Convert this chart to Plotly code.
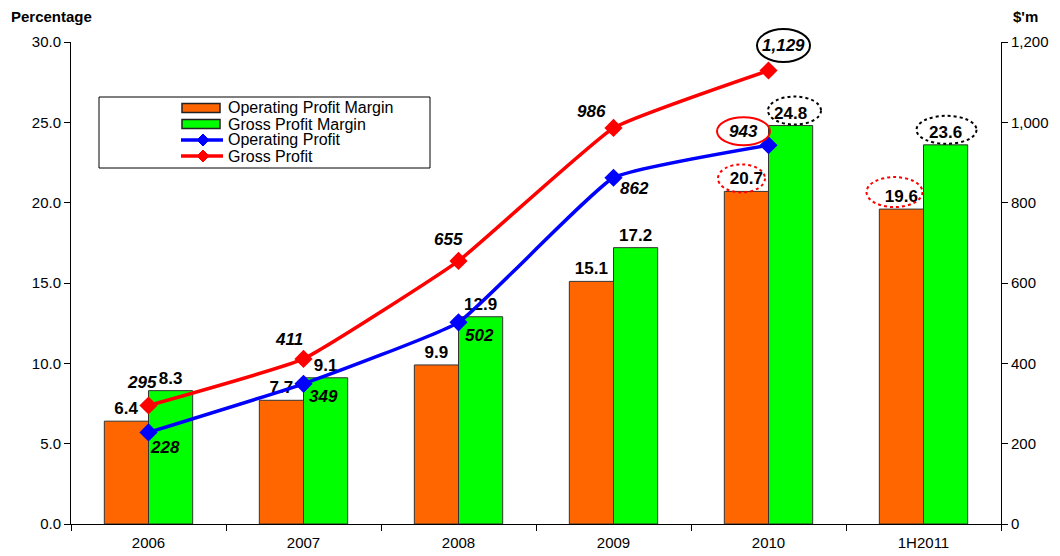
import plotly.graph_objects as go

categories = ["2006", "2007", "2008", "2009", "2010", "1H2011"]
op_margin = [6.4, 7.7, 9.9, 15.1, 20.7, 19.6]
gp_margin = [8.3, 9.1, 12.9, 17.2, 24.8, 23.6]
line_cats = ["2006", "2007", "2008", "2009", "2010"]
op_profit = [228, 349, 502, 862, 943]
gp_profit = [295, 411, 655, 986, 1129]

Y1_MAX = 30
Y2_MAX = 1200
N = len(categories)

FONT = "Liberation Sans, Arial, Helvetica, sans-serif"
ORANGE = "#FF6600"
GREEN = "#00FF00"
BLUE = "#0000FF"
RED = "#FF0000"

fig = go.Figure()
fig.add_trace(go.Bar(
    x=categories, y=op_margin, name="Operating Profit Margin",
    marker=dict(color=ORANGE, line=dict(color="#333333", width=1)),
    text=[f"<b>{v:.1f}</b>" for v in op_margin], textposition="outside",
    textfont=dict(size=17, color="black", family=FONT), cliponaxis=False,
))
fig.add_trace(go.Bar(
    x=categories, y=gp_margin, name="Gross Profit Margin",
    marker=dict(color=GREEN, line=dict(color="#333333", width=1)),
    text=[f"<b>{v:.1f}</b>" for v in gp_margin], textposition="outside",
    textfont=dict(size=17, color="black", family=FONT), cliponaxis=False,
))
fig.add_trace(go.Scatter(
    x=line_cats, y=op_profit, name="Operating Profit", yaxis="y2",
    mode="lines+markers", line=dict(color=BLUE, width=3.5, shape="spline", smoothing=0.35),
    marker=dict(symbol="diamond", size=14, color=BLUE), cliponaxis=False,
))
fig.add_trace(go.Scatter(
    x=line_cats, y=gp_profit, name="Gross Profit", yaxis="y2",
    mode="lines+markers", line=dict(color=RED, width=3.5, shape="spline", smoothing=0.35),
    marker=dict(symbol="diamond", size=14, color=RED), cliponaxis=False,
))

# value labels for the line series (pixel offsets from each marker)
op_dx = [16, 20, 21, 21, -25]
op_dy = [-15, -13, -13, -11, 14]
gp_dx = [-7, -15, -10, -22, 15]
gp_dy = [23, 19, 21, 16, 25]
annotations = []
for i, v in enumerate(op_profit):
    annotations.append(dict(x=i, y=v, xref="x", yref="y2", text=f"<b><i>{v:,}</i></b>",
                            showarrow=False, xshift=op_dx[i], yshift=op_dy[i],
                            font=dict(size=17, color="black", family=FONT)))
for i, v in enumerate(gp_profit):
    annotations.append(dict(x=i, y=v, xref="x", yref="y2", text=f"<b><i>{v:,}</i></b>",
                            showarrow=False, xshift=gp_dx[i], yshift=gp_dy[i],
                            font=dict(size=17, color="black", family=FONT)))
annotations.append(dict(x=0.0, y=1.0, xref="paper", yref="paper", xanchor="left", yanchor="bottom",
                        text="<b>Percentage</b>", showarrow=False, xshift=-62, yshift=15,
                        font=dict(size=15, color="black", family=FONT)))
annotations.append(dict(x=1.0, y=1.0, xref="paper", yref="paper", xanchor="left", yanchor="bottom",
                        text="<b>$'m</b>", showarrow=False, xshift=10, yshift=15,
                        font=dict(size=15, color="black", family=FONT)))

shapes = []

# ---- legend (drawn in plot-fraction coordinates) ----
PLOT_W, PLOT_H = 930, 482
def px(xp):  # pixel offset from plot left -> paper fraction
    return xp / PLOT_W
def py(yp):  # pixel offset from plot top -> paper fraction
    return 1 - yp / PLOT_H

shapes.append(dict(type="rect", xref="paper", yref="paper", x0=px(28), x1=px(359), y0=py(55), y1=py(126),
                   line=dict(color="black", width=1), fillcolor="white", layer="above"))
legend_items = [("Operating Profit Margin", "bar", ORANGE),
                ("Gross Profit Margin", "bar", GREEN),
                ("Operating Profit", "line", BLUE),
                ("Gross Profit", "line", RED)]
for k, (name, kind, col) in enumerate(legend_items):
    yc = 66 + 16 * k
    if kind == "bar":
        shapes.append(dict(type="rect", xref="paper", yref="paper", x0=px(111), x1=px(149),
                           y0=py(yc - 4.5), y1=py(yc + 4.5), fillcolor=col,
                           line=dict(color="#222222", width=1.5), layer="above"))
    else:
        shapes.append(dict(type="line", xref="paper", yref="paper", x0=px(110), x1=px(152),
                           y0=py(yc), y1=py(yc), line=dict(color=col, width=3.5), layer="above"))
        shapes.append(dict(type="path", xref="paper", yref="paper", xsizemode="pixel", ysizemode="pixel",
                           xanchor=px(132), yanchor=py(yc), path="M -6,0 L 0,6 L 6,0 L 0,-6 Z",
                           fillcolor=col, line=dict(color=col, width=1), layer="above"))
    annotations.append(dict(x=px(155), y=py(yc), xref="paper", yref="paper", xanchor="left",
                            yanchor="middle", text=name, showarrow=False,
                            font=dict(size=16, color="black", family=FONT)))

# ---- highlight ellipses ----
def ellipse(idx, off, val, ymax, dx, dy, w, h, color, dash):
    return dict(type="circle", xref="paper", yref="paper", xsizemode="pixel", ysizemode="pixel",
                xanchor=(idx + 0.5 + off) / N, yanchor=val / ymax,
                x0=dx - w / 2, x1=dx + w / 2, y0=dy - h / 2, y1=dy + h / 2,
                line=dict(color=color, width=2, dash=dash), layer="above")

off = 0.142
shapes.append(ellipse(4, 0, gp_profit[4], Y2_MAX, 15, 25, 53, 33, "black", "solid"))
shapes.append(ellipse(4, 0, op_profit[4], Y2_MAX, -25, 14, 53, 28, RED, "solid"))
shapes.append(ellipse(4, -off, op_margin[4], Y1_MAX, -5, 13, 47, 28, RED, "dot"))
shapes.append(ellipse(4, off, gp_margin[4], Y1_MAX, 4, 15, 53, 28, "black", "dot"))
shapes.append(ellipse(5, -off, op_margin[5], Y1_MAX, -7, 17, 56, 30, RED, "dot"))
shapes.append(ellipse(5, off, gp_margin[5], Y1_MAX, 1, 15, 60, 28, "black", "dot"))

axis_common = dict(showline=True, linecolor="black", linewidth=1, tickcolor="black",
                   showgrid=False, zeroline=False, automargin=False)
overlay_common = dict(ticklen=6, showticklabels=False, tickcolor="black", showline=False,
                      showgrid=False, zeroline=False, automargin=False)

fig.update_layout(
    width=1052, height=548,
    margin=dict(l=63, r=59, t=34, b=32),
    paper_bgcolor="white", plot_bgcolor="white",
    font=dict(family=FONT, size=15, color="black"),
    barmode="group", bargap=0.43, bargroupgap=0,
    showlegend=False,
    xaxis=dict(type="category", range=[-0.5, 5.5], ticks="outside", ticklen=6,
               tickson="boundaries", tickfont=dict(size=15), ticklabelstandoff=5, **axis_common),
    xaxis2=dict(overlaying="x", range=[-0.5, 5.5], tickvals=[i - 0.5 for i in range(N + 1)],
                ticks="inside", anchor="y", **overlay_common),
    yaxis=dict(range=[0, Y1_MAX], dtick=5, tickformat=".1f", ticks="outside", ticklen=6,
               tickfont=dict(size=15), **axis_common),
    yaxis2=dict(range=[0, Y2_MAX], dtick=200, tickformat=",d", overlaying="y", side="right",
                ticks="outside", ticklen=6, tickfont=dict(size=15), **axis_common),
    yaxis3=dict(range=[0, Y1_MAX], dtick=5, overlaying="y", anchor="x", ticks="inside", **overlay_common),
    yaxis4=dict(range=[0, Y2_MAX], dtick=200, overlaying="y", side="right", anchor="x", ticks="inside",
                **overlay_common),
    annotations=annotations, shapes=shapes,
)

fig.write_html("out.html")
